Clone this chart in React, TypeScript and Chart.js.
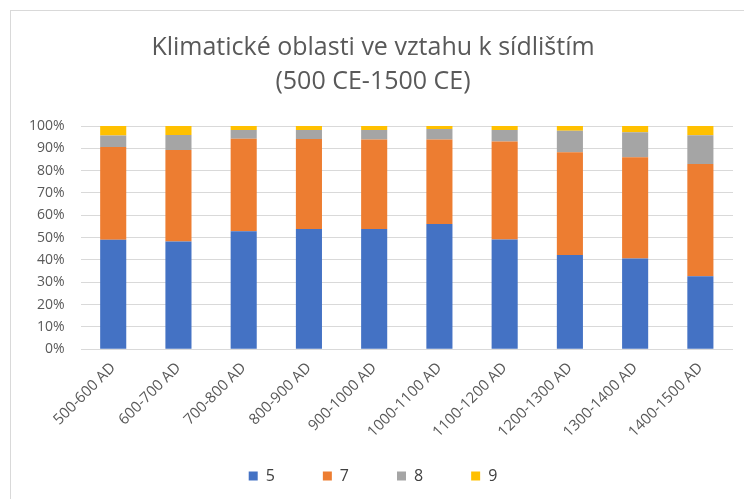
import React, { useEffect, useRef } from "react";
import { Chart, registerables, Legend } from "chart.js";

Chart.register(...registerables);

const categories = [
  "500-600 AD", "600-700 AD", "700-800 AD", "800-900 AD", "900-1000 AD",
  "1000-1100 AD", "1100-1200 AD", "1200-1300 AD", "1300-1400 AD", "1400-1500 AD",
];
const series5 = [49.0, 48.2, 52.8, 53.9, 53.9, 56.1, 49.1, 42.2, 40.6, 32.7];
const series7 = [41.6, 41.1, 41.5, 40.3, 40.1, 37.8, 43.9, 46.0, 45.4, 50.3];
const series8 = [5.1, 6.7, 3.9, 4.0, 4.2, 4.8, 5.2, 9.7, 11.2, 12.8];
const series9 = [4.3, 4.0, 1.8, 1.8, 1.8, 1.3, 1.8, 2.1, 2.8, 4.2];
const seriesNames = ["5", "7", "8", "9"];
const titleLines = ["Klimatické oblasti ve vztahu k sídlištím", "(500 CE-1500 CE)"];

const FONT = "'Open Sans', 'Noto Sans', sans-serif";

// Legend: wide horizontal spacing between items, compact vertical footprint.
const LEGEND_HEIGHT = 48;
const LEGEND_SHIFT_UP = 31;
const LegendEl: any = (Legend as any)._element;
if (LegendEl && !LegendEl.__patched) {
  const origFit = LegendEl.prototype.fit;
  LegendEl.prototype.fit = function () {
    origFit.call(this);
    if (this.isHorizontal && this.isHorizontal()) this.height = LEGEND_HEIGHT;
  };
  const origDraw = LegendEl.prototype.draw;
  LegendEl.prototype.draw = function () {
    const t = this.top;
    this.top = t - LEGEND_SHIFT_UP;
    origDraw.call(this);
    this.top = t;
  };
  LegendEl.__patched = true;
}

export default function App() {
  const ref = useRef<HTMLCanvasElement | null>(null);
  useEffect(() => {
    if (!ref.current) return;
    const colors = ["#4472C4", "#ED7D31", "#A5A5A5", "#FFC000"];
    const all = [series5, series7, series8, series9];
    const chart = new Chart(ref.current, {
      type: "bar",
      data: {
        labels: categories,
        datasets: all.map((d, i) => ({
          label: seriesNames[i],
          data: d,
          backgroundColor: colors[i],
          borderWidth: 0,
          barPercentage: 0.8,
          categoryPercentage: 0.5,
        })),
      },
      options: {
        animation: false,
        responsive: false,
        maintainAspectRatio: false,
        layout: { padding: { left: 13, right: 11, top: 18, bottom: 0 } },
        plugins: {
          title: {
            display: true,
            text: titleLines,
            color: "#595959",
            font: { family: FONT, size: 25, weight: "normal", lineHeight: 1.36 },
            padding: { top: 13, bottom: 27 },
          },
          legend: {
            position: "bottom",
            labels: {
              color: "#404040",
              font: { family: FONT, size: 16 },
              boxWidth: 9,
              boxHeight: 9,
              padding: 48,
            },
          },
          tooltip: { enabled: false },
        },
        scales: {
          x: {
            stacked: true,
            grid: { display: false, drawTicks: false },
            border: { display: false },
            ticks: {
              color: "#595959",
              font: { family: FONT, size: 15 },
              maxRotation: 45,
              minRotation: 45,
              padding: 10,
              autoSkip: false,
            },
          },
          y: {
            stacked: true,
            min: 0,
            max: 100,
            grid: { color: "#d9d9d9", drawTicks: false },
            border: { display: false },
            ticks: {
              stepSize: 10,
              autoSkip: false,
              color: "#595959",
              font: { family: FONT, size: 14 },
              padding: 16,
              callback: (v: any) => v + "%",
            },
          },
        },
      },
    });
    return () => chart.destroy();
  }, []);
  return (
    <div style={{ position: "absolute", left: 0, top: 0, width: 744, height: 499, background: "#fff", overflow: "hidden" }}>
      <div style={{ position: "absolute", left: 10, top: 10, width: 760, height: 520, border: "1px solid #d9d9d9" }} />
      <canvas ref={ref} width={744} height={499} style={{ position: "absolute", left: 0, top: 0 }} />
    </div>
  );
}
